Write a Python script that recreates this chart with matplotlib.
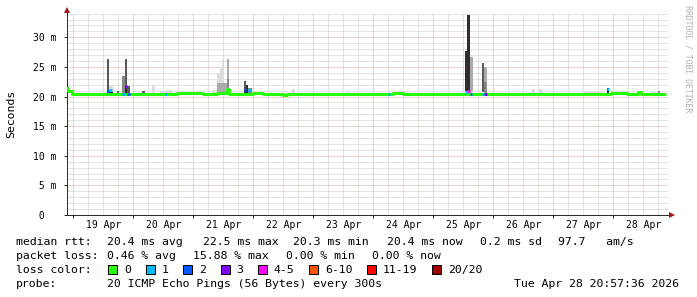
import matplotlib

matplotlib.use("Agg")
import matplotlib.dates as mdates
import matplotlib.pyplot as plt
import numpy as np
import pandas as pd
from matplotlib.patches import Rectangle

# ---- data (times local, rtt in ms) ----
median_time = [
    "2026-04-18 20:57", "2026-04-18 21:55", "2026-04-18 23:25", "2026-04-20 17:30",
    "2026-04-21 04:00", "2026-04-21 09:30", "2026-04-21 13:30", "2026-04-21 14:20",
    "2026-04-21 20:00", "2026-04-22 00:00", "2026-04-22 04:00", "2026-04-22 12:00",
    "2026-04-22 13:40", "2026-04-22 22:00", "2026-04-23 08:00", "2026-04-24 08:00",
    "2026-04-24 12:00", "2026-04-24 14:50", "2026-04-27 12:00", "2026-04-27 20:00",
    "2026-04-27 23:00", "2026-04-28 05:30", "2026-04-28 09:50", "2026-04-28 11:10",
    "2026-04-28 15:00", "2026-04-28 20:57",
]
median_ms = [
    21.4, 20.9, 20.45, 20.52,
    20.38, 20.55, 21.3, 20.38,
    20.45, 20.52, 20.42, 20.3,
    20.42, 20.5, 20.42, 20.52,
    20.38, 20.45, 20.38, 20.45,
    20.52, 20.38, 20.8, 20.42,
    20.38, 20.38,
]

# steps with packet loss: start time, median, loss class
loss_time = [
    "2026-04-19 13:25", "2026-04-19 14:25", "2026-04-19 19:40", "2026-04-19 20:30",
    "2026-04-19 21:30", "2026-04-20 12:30", "2026-04-21 20:10", "2026-04-21 22:00",
    "2026-04-24 05:40", "2026-04-25 12:30", "2026-04-25 13:30", "2026-04-25 14:30",
    "2026-04-25 19:20", "2026-04-25 20:20", "2026-04-27 21:20",
]
loss_ms = [20.9, 21.1, 20.35, 21.85, 20.35, 20.4, 21.05, 21.1,
           20.4, 20.8, 20.95, 20.4, 20.4, 20.4, 21.2]
loss_class = [2, 1, 1, 3, 2, 1, 2, 1, 1, 1, 4, 2, 1, 3, 1]

# smoke: start, end, low, high, shade band (0 = outer pings ... 4 = near median)
smoke_start = [
    "2026-04-18 21:25", "2026-04-18 23:10", "2026-04-18 23:40", "2026-04-19 13:25",
    "2026-04-19 13:25", "2026-04-19 14:25", "2026-04-19 14:25", "2026-04-19 17:20",
    "2026-04-19 19:40", "2026-04-19 20:30", "2026-04-19 20:30", "2026-04-19 21:30",
    "2026-04-20 03:30", "2026-04-20 07:40", "2026-04-20 10:30", "2026-04-20 13:00",
    "2026-04-20 17:00", "2026-04-21 07:30", "2026-04-21 09:20", "2026-04-21 10:30",
    "2026-04-21 11:20", "2026-04-21 09:20", "2026-04-21 12:20", "2026-04-21 13:30",
    "2026-04-21 13:30", "2026-04-21 14:20", "2026-04-21 20:10", "2026-04-21 20:10",
    "2026-04-21 21:10", "2026-04-21 22:00", "2026-04-22 15:30", "2026-04-23 13:30",
    "2026-04-24 11:30", "2026-04-25 12:30", "2026-04-25 13:30", "2026-04-25 14:30",
    "2026-04-25 19:20", "2026-04-25 20:20", "2026-04-25 20:20", "2026-04-26 15:20",
    "2026-04-26 18:00", "2026-04-27 12:00", "2026-04-27 21:20", "2026-04-27 23:00",
    "2026-04-28 09:50", "2026-04-28 15:00", "2026-04-28 17:50",
]
smoke_end = [
    "2026-04-18 22:25", "2026-04-18 23:40", "2026-04-19 01:00", "2026-04-19 14:25",
    "2026-04-19 14:25", "2026-04-19 15:45", "2026-04-19 15:45", "2026-04-19 18:20",
    "2026-04-19 20:30", "2026-04-19 21:30", "2026-04-19 21:30", "2026-04-19 22:30",
    "2026-04-20 04:30", "2026-04-20 08:30", "2026-04-20 13:00", "2026-04-20 15:30",
    "2026-04-21 04:00", "2026-04-21 09:20", "2026-04-21 10:30", "2026-04-21 11:20",
    "2026-04-21 12:20", "2026-04-21 12:20", "2026-04-21 13:30", "2026-04-21 14:20",
    "2026-04-21 14:20", "2026-04-21 14:50", "2026-04-21 21:10", "2026-04-21 21:10",
    "2026-04-21 22:00", "2026-04-21 23:30", "2026-04-22 16:30", "2026-04-23 14:30",
    "2026-04-24 14:00", "2026-04-25 13:30", "2026-04-25 14:30", "2026-04-25 15:50",
    "2026-04-25 20:20", "2026-04-25 21:20", "2026-04-25 21:20", "2026-04-26 16:30",
    "2026-04-26 19:40", "2026-04-27 20:00", "2026-04-27 22:20", "2026-04-28 05:30",
    "2026-04-28 11:10", "2026-04-28 18:00", "2026-04-28 18:40",
]
smoke_lo = [
    20.6, 20.3, 20.5, 20.6, 20.3, 20.5, 20.3, 20.5, 20.6, 20.6, 20.4, 20.5,
    20.5, 20.5, 20.5, 20.5, 20.5, 20.5, 20.6, 20.6, 20.6, 20.6, 20.6, 20.6,
    20.6, 20.4, 20.5, 20.4, 20.4, 20.5, 20.5, 20.5, 20.5, 20.9, 21.0, 20.7,
    20.8, 20.6, 20.6, 20.5, 20.5, 20.5, 20.4, 20.55, 20.3, 20.5, 20.5,
]
smoke_hi = [
    22.3, 20.9, 21.1, 26.35, 21.0, 21.7, 20.8, 21.0, 23.5, 26.3, 21.6, 21.7,
    21.0, 21.7, 21.0, 21.1, 20.75, 21.1, 23.9, 25.0, 26.3, 22.2, 22.3, 26.3,
    23.0, 21.3, 22.6, 21.2, 22.0, 21.5, 21.3, 20.8, 21.0, 27.7, 33.8, 26.7,
    25.6, 24.9, 22.5, 21.3, 21.2, 20.8, 21.4, 20.85, 20.8, 20.8, 21.0,
]
smoke_band = [
    0, 4, 0, 3, 4, 0, 4, 3, 2, 3, 4, 3,
    3, 0, 0, 0, 0, 0, 0, 0, 0, 1, 1, 1,
    2, 4, 3, 4, 4, 2, 0, 0, 0, 4, 4, 1,
    3, 1, 2, 0, 0, 0, 4, 0, 4, 0, 2,
]

day_labels = ["19 Apr", "20 Apr", "21 Apr", "22 Apr", "23 Apr",
              "24 Apr", "25 Apr", "26 Apr", "27 Apr", "28 Apr"]
y_ticks = [0, 5, 10, 15, 20, 25, 30]

loss_labels = ["0", "1", "2", "3", "4-5", "6-10", "11-19", "20/20"]
loss_colors = ["#26ff00", "#00b8ff", "#0059ff", "#7e00ff",
               "#ff00ff", "#ff5500", "#ff0000", "#a10000"]

rtt_stats = ["20.4 ms avg", "22.5 ms max", "20.3 ms min", "20.4 ms now",
             "0.2 ms sd", "97.7   am/s"]
loss_stats = ["0.46 % avg", "15.88 % max", "0.00 % min", "0.00 % now"]
probe_text = "20 ICMP Echo Pings (56 Bytes) every 300s"
stamp_text = "Tue Apr 28 20:57:36 2026"

# ---- drawing ----
W, H = 697, 297
MONO = "DejaVu Sans Mono"
band_colors = ["#dcdcdc", "#ababab", "#888888", "#5a5a5a", "#2e2e2e"]
step = 1 / 24  # one hour rra step in days


def num(ts):
    return mdates.date2num(pd.to_datetime(ts))


def fpos(x, y):
    return x / W, 1 - y / H


fig = plt.figure(figsize=(W / 100, H / 100), dpi=100)
ax = fig.add_axes([66.7 / W, 82 / H, 601.3 / W, 202 / H])
ax.set_xlim(num("2026-04-18 21:22"), num("2026-04-28 21:50"))
ax.set_ylim(0, 34.1)

# grid: 6h / 1ms dotted gray, day / 5ms dotted red
dots = (0, (1, 1))
grid_kw = dict(ls=dots, lw=0.72, zorder=0.5)
for t in pd.date_range("2026-04-19 00:00", "2026-04-28 18:00", freq="6h"):
    ax.axvline(num(t), color="#e6a3a3" if t.hour == 0 else "#c8c8c8", **grid_kw)
for v in range(1, 35):
    ax.axhline(v, color="#e6a3a3" if v % 5 == 0 else "#c8c8c8", **grid_kw)

# smoke
s0 = num(smoke_start)
s1 = num(smoke_end)
lo = np.array(smoke_lo)
hi = np.array(smoke_hi)
band = np.array(smoke_band)
for b in range(5):
    m = band == b
    ax.bar(s0[m], hi[m] - lo[m], width=s1[m] - s0[m], bottom=lo[m], align="edge",
           color=band_colors[b], lw=0, zorder=2)

# median line, then loss coloured steps on top
ax.step(num(median_time), median_ms, where="post", color=loss_colors[0], lw=2.16,
        solid_capstyle="butt", zorder=3)
lt = num(loss_time)
ax.hlines(loss_ms, lt, lt + step, colors=[loss_colors[c] for c in loss_class],
          lw=2.16, zorder=4)

# axes
for side in ("top", "right"):
    ax.spines[side].set_visible(False)
for side in ("left", "bottom"):
    ax.spines[side].set_color("#2c2c2c")
    ax.spines[side].set_linewidth(0.72)
ax.plot([1.006], [0], marker=">", ms=4.5, mew=0, color="#a01818",
        transform=ax.transAxes, clip_on=False)
ax.plot([0], [1.014], marker="^", ms=4.5, mew=0, color="#a01818",
        transform=ax.transAxes, clip_on=False)

noons = pd.date_range("2026-04-19 12:00", periods=len(day_labels), freq="D")
ax.set_xticks(num(noons), day_labels, family=MONO, fontsize=7)
ax.set_xticks(num(noons - pd.Timedelta("12h")), minor=True)
ax.tick_params(axis="x", which="major", length=0, pad=3.5)
ax.tick_params(axis="x", which="minor", length=2, width=0.72, color="#2c2c2c")

y_labels = [f"{v:2d} m" if v else " 0" for v in y_ticks]
ax.set_yticks(y_ticks, y_labels, family=MONO, fontsize=7)
ax.tick_params(axis="y", length=2, width=0.72, color="#2c2c2c", pad=22.1)
plt.setp(ax.get_yticklabels(), ha="left")

fig.text(*fpos(11, 114), "Seconds", rotation=90, ha="center", va="center",
         family=MONO, fontsize=8.25)
fig.text(*fpos(688, 5), "RRDTOOL / TOBI OETIKER", rotation=270, ha="center", va="top",
         family=MONO, fontsize=5.9, color="#b0b0b0")

# legend block
txt = dict(family=MONO, fontsize=8.25, va="baseline", color="black")
fig.text(*fpos(16, 244.7), "median rtt:", **txt)
for x, s in zip([107.3, 202.7, 293.3, 387, 479.7, 558], rtt_stats):
    fig.text(*fpos(x, 244.7), s, **txt)
fig.text(*fpos(16, 258.7), "packet loss:", **txt)
for x, s in zip([107.3, 193.3, 286, 372], loss_stats):
    fig.text(*fpos(x, 258.7), s, **txt)
fig.text(*fpos(16, 272.7), "loss color:", **txt)
bx = 108.3
for lab, col in zip(loss_labels, loss_colors):
    fig.add_artist(Rectangle(fpos(bx, 273.5), 9 / W, 9 / H, transform=fig.transFigure,
                             facecolor=col, edgecolor="black", lw=0.72))
    fig.text(*fpos(bx + 15.7, 272.7), lab, **txt)
    bx += 37.4 + (len(lab) - 1) * 6.9
fig.text(*fpos(16, 287), "probe:", **txt)
fig.text(*fpos(107.3, 287), probe_text, **txt)
fig.text(*fpos(513.7, 287), stamp_text, **txt)

fig.savefig("out.png", dpi=100)
